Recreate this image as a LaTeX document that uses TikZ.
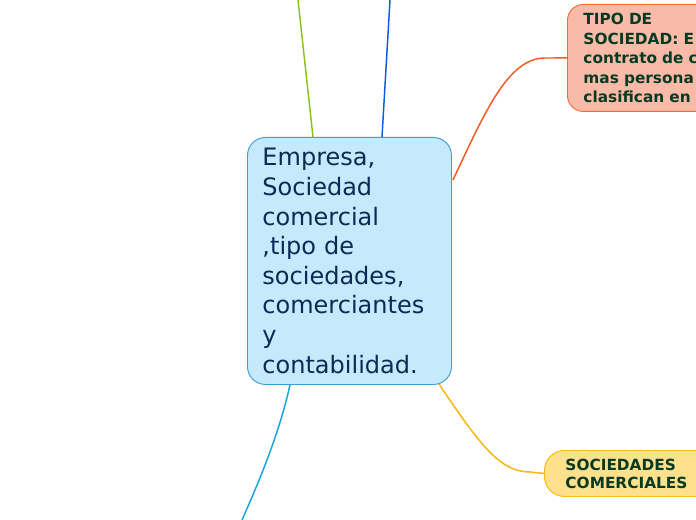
\documentclass[tikz,border=0pt]{standalone}
\usepackage{fontspec}
\setmainfont{DejaVu Sans}
\usetikzlibrary{positioning, calc}

\definecolor{mainfill}{HTML}{C5EAFB}
\definecolor{maindraw}{HTML}{3D9DD6}
\definecolor{maintext}{HTML}{0B2A55}
\definecolor{tipofill}{HTML}{F9BBA8}
\definecolor{tipodraw}{HTML}{F26B3A}
\definecolor{socfill}{HTML}{FFE08C}
\definecolor{socdraw}{HTML}{F7BA12}
\definecolor{subtext}{HTML}{063A23}
\definecolor{greenline}{HTML}{8CC11C}
\definecolor{blueline}{HTML}{0B5ED7}
\definecolor{orangeline}{HTML}{F15A22}
\definecolor{yellowline}{HTML}{F8B60E}
\definecolor{cyanline}{HTML}{1AA3E0}

\begin{document}
\begin{tikzpicture}[x=0.75pt, y=-0.75pt,
        topic/.style={draw, anchor=north west, align=left, line width=0.7pt},
        subtopic/.style={topic, font=\fontsize{11.5}{13.5}\selectfont\bfseries, text=subtext},
        branch/.style={line width=1.1pt}]
    \useasboundingbox (0,0) rectangle (696,520);
    \clip (0,0) rectangle (696,520);

    \node (empresa) [topic, fill=mainfill, draw=maindraw, text=maintext, rounded corners=13.5pt,
        font=\fontsize{18}{22.2}\selectfont, inner xsep=11.25pt, text width=130.5pt,
        minimum width=153pt, minimum height=185.25pt] at (247,137)
        {Empresa,\\Sociedad\\comercial\\,tipo de\\sociedades,\\comerciantes\\y\\contabilidad.};
    \node (tipo) [subtopic, fill=tipofill, draw=tipodraw, rounded corners=12pt,
        font=\fontsize{11.5}{14.6}\selectfont\bfseries,
        inner xsep=12pt, text width=110pt, minimum height=80.25pt] at (567,4)
        {TIPO DE\\SOCIEDAD: E\\contrato de c\\mas persona\\clasifican en};
    \node (socs) [subtopic, fill=socfill, draw=socdraw, rounded corners=15pt,
        inner xsep=15.75pt, text width=110pt, minimum height=34.5pt] at (544,450)
        {SOCIEDADES\\COMERCIALES};

    \coordinate (gtop) at (298,0);
    \coordinate (btop) at (390,0);
    \coordinate (cbot) at (242,520);

    \draw [branch, greenline] ($(empresa.north west)+(66,0)$) -- (gtop);
    \draw [branch, blueline] ($(empresa.north west)+(135,0)$) -- (btop);
    \draw [branch, orangeline] ($(empresa.north east)+(1,43)$)
        .. controls (485,112) and (508,58) .. (545,58) -- (tipo.west);
    \draw [branch, yellowline] ($(empresa.south east)+(-13,-1)$)
        .. controls (480,445) and (500,472) .. (530,472) -- (socs.west);
    \draw [branch, cyanline] ($(empresa.south west)+(43,0)$)
        .. controls (280,430) and (262,475) .. (cbot);
\end{tikzpicture}
\end{document}
